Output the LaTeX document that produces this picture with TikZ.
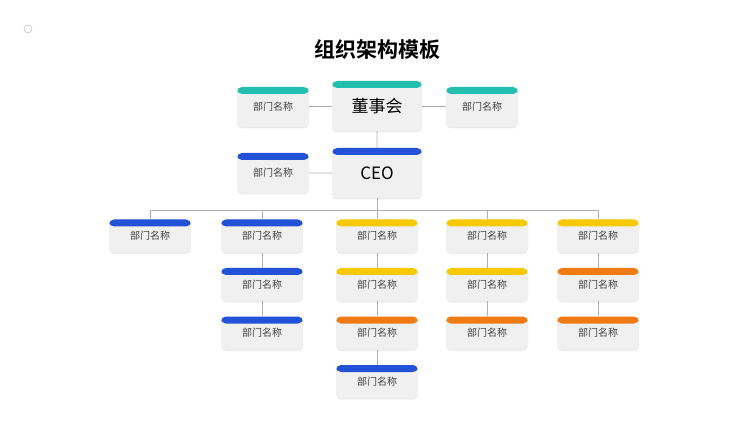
\documentclass[tikz,border=0pt]{standalone}
\usepackage{fontspec}
\setmainfont{Noto Sans CJK SC}
\newfontfamily\titlefont[BoldFont=Noto Sans CJK SC Bold]{Noto Sans CJK SC}
\usetikzlibrary{positioning,shadows}
\definecolor{capteal}{HTML}{22BFB0}
\definecolor{capblue}{HTML}{2352D9}
\definecolor{capyellow}{HTML}{F7C804}
\definecolor{caporange}{HTML}{F07B12}
\definecolor{boxgray}{HTML}{F0F0F0}
\definecolor{linegray}{HTML}{B0B0B0}
\tikzset{
  dept/.style={fill=boxgray,rounded corners=5pt,minimum width=82pt,minimum height=33pt,
    inner sep=0pt,font=\fontsize{10}{12}\selectfont,text=black!75,
    drop shadow={opacity=0.15,shadow xshift=0pt,shadow yshift=-1.5pt},
    path picture={\fill[#1] (path picture bounding box.north west) rectangle
      ([yshift=-7pt]path picture bounding box.north east);}},
  side/.style={dept=#1,minimum width=72pt,minimum height=40pt},
  head/.style={dept=#1,minimum width=90pt,minimum height=50pt,font=\fontsize{17}{20}\selectfont,text=black},
  link/.style={draw=linegray,line width=0.8pt}
}
\newcommand{\dname}{\raisebox{-3pt}{部门名称}}
\begin{document}
\begin{tikzpicture}[x=1pt,y=-1pt]
\useasboundingbox (0,0) rectangle (750,422);
\draw[linegray] (28,29) circle (4);
\node[font=\titlefont\bfseries\fontsize{21}{24}\selectfont] (title) at (377,50) {组织架构模板};
% top levels
\node[head=capteal] (board) at (377,106) {\raisebox{-3pt}{董事会}};
\node[side=capteal] (bl) at (273,107) {\dname};
\node[side=capteal] (br) at (482,107) {\dname};
\node[head=capblue] (ceo) at (377,173) {\raisebox{-3pt}{CEO}};
\node[side=capblue] (cl) at (273,173) {\dname};
\path[link] (bl) -- (board) (board) -- (br) (board) -- (ceo) (cl) -- (ceo);
% bar
\coordinate (barL) at (150,210);
\coordinate (barR) at (598,210);
\path[link] (barL) -- (barR) (ceo.south) -- (ceo.south |- barL);
% columns
\foreach \x/\n/\cols in {150/a/{capblue},
                         262/b/{capblue,capblue,capblue},
                         377/c/{capyellow,capyellow,caporange,capblue},
                         487/d/{capyellow,capyellow,caporange},
                         598/e/{capyellow,caporange,caporange}}{
  \foreach \c [count=\i] in \cols {
    \node[dept=\c] (\n\i) at (\x,{236+48.5*(\i-1)}) {\dname};
    \ifnum\i=1
      \path[link] (\n\i.north) -- (\n\i.north |- barL);
    \else
      \pgfmathtruncatemacro\j{\i-1}
      \path[link] (\n\j.south) -- (\n\i.north);
    \fi
  }
}
\end{tikzpicture}
\end{document}
